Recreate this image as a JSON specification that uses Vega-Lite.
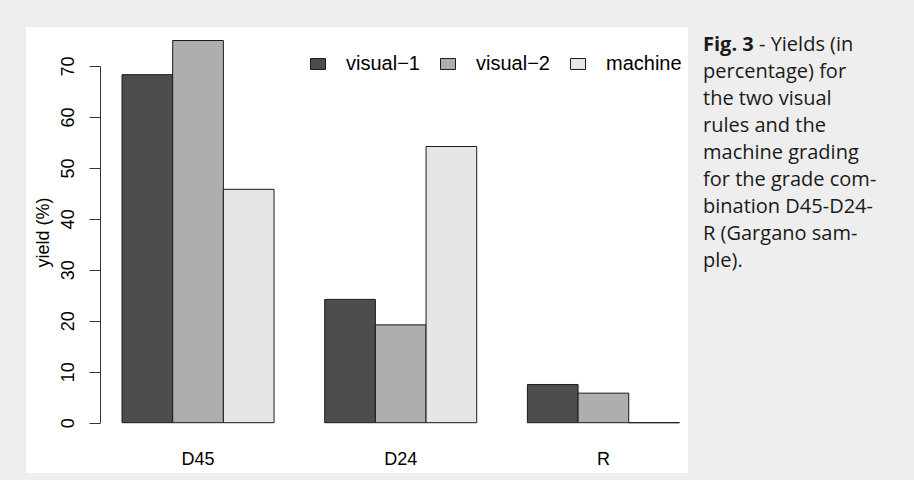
{
  "$schema": "https://vega.github.io/schema/vega-lite/v6.json",
  "background": "#eeeeee",
  "padding": {"left": 26, "top": 27, "right": 11, "bottom": 7},
  "config": {"view": {"stroke": null}, "font": "Liberation Sans"},
  "spacing": 15,
  "hconcat": [
    {
      "width": 662,
      "height": 446,
      "view": {"fill": "white", "stroke": null},
      "data": {
        "values": [
          {"grade": "D45", "method": "visual−1", "yield": 68.3},
          {"grade": "D45", "method": "visual−2", "yield": 75.0},
          {"grade": "D45", "method": "machine", "yield": 45.8},
          {"grade": "D24", "method": "visual−1", "yield": 24.2},
          {"grade": "D24", "method": "visual−2", "yield": 19.2},
          {"grade": "D24", "method": "machine", "yield": 54.2},
          {"grade": "R", "method": "visual−1", "yield": 7.5},
          {"grade": "R", "method": "visual−2", "yield": 5.8},
          {"grade": "R", "method": "machine", "yield": 0}
        ]
      },
      "mark": {"type": "bar", "stroke": "#1a1a1a", "strokeWidth": 1},
      "encoding": {
        "x": {
          "field": "grade", "type": "nominal", "sort": ["D45", "D24", "R"],
          "scale": {"paddingInner": 0.25, "paddingOuter": 0.258, "align": 0.918},
          "axis": {"title": null, "domain": false, "ticks": false, "tickSize": 0, "labelPadding": 0, "offset": -23,
                   "labelFont": "Liberation Sans", "labelFontSize": 18, "labelColor": "black", "labelAngle": 0}
        },
        "xOffset": {
          "field": "method", "type": "nominal", "sort": ["visual−1", "visual−2", "machine"],
          "scale": {"paddingInner": 0, "paddingOuter": 0}
        },
        "y": {
          "field": "yield", "type": "quantitative",
          "scale": {"domain": [-9.87, 77.65], "nice": false, "zero": false},
          "axis": {
            "title": "yield (%)", "values": [0, 10, 20, 30, 40, 50, 60, 70], "grid": false, "offset": -74,
            "tickSize": 11, "tickColor": "#333333", "domainColor": "#333333", "domainDash": [0, 50.3, 356.7, 2000],
            "labelAngle": 270, "labelFont": "Liberation Sans", "labelFontSize": 18, "labelColor": "black", "labelPadding": 12,
            "titleFont": "Liberation Sans", "titleFontSize": 18, "titleFontWeight": "normal", "titleColor": "black",
            "titleX": -57, "titleY": 205, "titleAngle": 270, "titleAlign": "center", "titleBaseline": "middle"
          }
        },
        "y2": {"datum": 0},
        "color": {
          "field": "method", "type": "nominal", "sort": ["visual−1", "visual−2", "machine"],
          "scale": {"domain": ["visual−1", "visual−2", "machine"], "range": ["#4d4d4d", "#aeaeae", "#e6e6e6"]},
          "legend": {
            "title": null, "orient": "none", "direction": "horizontal", "legendX": 282, "legendY": 27, "padding": 0,
            "symbolType": "M-1,-0.73H1V0.73H-1Z", "symbolSize": 225, "symbolStrokeColor": "#1a1a1a", "symbolStrokeWidth": 1,
            "symbolOpacity": 1, "labelFont": "Liberation Sans", "labelFontSize": 20, "labelColor": "black",
            "labelOffset": 18, "columnPadding": 18
          }
        }
      }
    },
    {
      "width": 200,
      "height": 264,
      "data": {
        "values": [
          {"line": 0, "part": "bold", "text": "Fig. 3"},
          {"line": 0, "part": "first", "text": "- Yields (in"},
          {"line": 1, "part": "rest", "text": "percentage) for"},
          {"line": 2, "part": "rest", "text": "the two visual"},
          {"line": 3, "part": "rest", "text": "rules and the"},
          {"line": 4, "part": "rest", "text": "machine grading"},
          {"line": 5, "part": "rest", "text": "for the grade com-"},
          {"line": 6, "part": "rest", "text": "bination D45-D24-"},
          {"line": 7, "part": "rest", "text": "R (Gargano sam-"},
          {"line": 8, "part": "rest", "text": "ple)."}
        ]
      },
      "encoding": {
        "x": {"value": 0},
        "y": {"field": "line", "type": "ordinal", "axis": null, "scale": {"type": "point", "padding": 0.889}},
        "text": {"field": "text"}
      },
      "layer": [
        {
          "transform": [{"filter": "datum.part === 'bold'"}],
          "mark": {"type": "text", "font": "Open Sans", "fontSize": 20, "fontWeight": "bold", "align": "left", "baseline": "alphabetic", "color": "#1a1a1a"}
        },
        {
          "transform": [{"filter": "datum.part === 'first'"}],
          "mark": {"type": "text", "font": "Open Sans", "fontSize": 20, "align": "left", "baseline": "alphabetic", "color": "#1a1a1a", "dx": 56}
        },
        {
          "transform": [{"filter": "datum.part === 'rest'"}],
          "mark": {"type": "text", "font": "Open Sans", "fontSize": 20, "align": "left", "baseline": "alphabetic", "color": "#1a1a1a"}
        }
      ]
    }
  ]
}
